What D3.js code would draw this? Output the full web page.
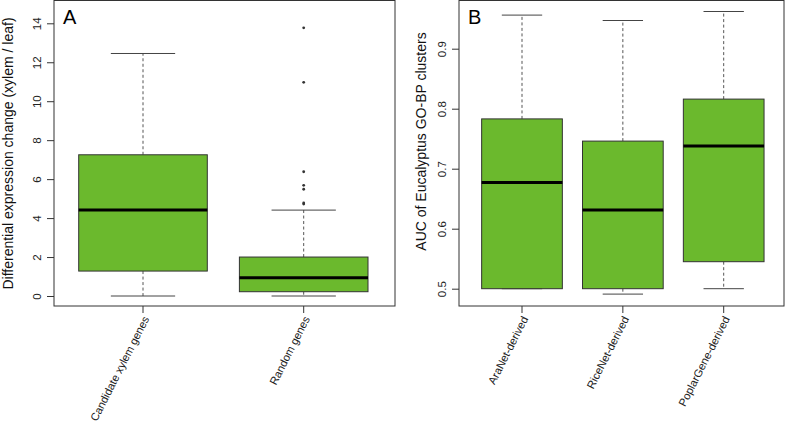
<!DOCTYPE html>
<html><head><meta charset="utf-8">
<script src="https://cdn.jsdelivr.net/npm/d3@7"></script>
<style>body{margin:0;background:#fff}svg{display:block;font-family:"Liberation Sans",Arial,sans-serif}</style>
</head><body><svg id="c" width="787" height="425"></svg>
<script>
// Panel A data
const catsA = ["Candidate xylem genes", "Random genes"];
const minA = [0, 0];
const q1A = [1.28, 0.22];
const medA = [4.41, 0.94];
const q3A = [7.25, 2.0];
const maxA = [12.45, 4.41];
const outliersA = [[], [4.72, 4.78, 5.48, 5.68, 6.38, 10.97, 13.77]];
const ticksA = [0, 2, 4, 6, 8, 10, 12, 14];
// Panel B data
const catsB = ["AraNet-derived", "RiceNet-derived", "PoplarGene-derived"];
const minB = [0.5, 0.491, 0.5];
const q1B = [0.5, 0.5, 0.545];
const medB = [0.677, 0.631, 0.738];
const q3B = [0.783, 0.746, 0.816];
const maxB = [0.956, 0.947, 0.962];
const outliersB = [[], [], []];
const ticksB = [0.5, 0.6, 0.7, 0.8, 0.9];

const svg = d3.select("#c");
const FILL = "#6bb92d";

function panel(o) {
  const g = svg.append("g");
  const x = d3.scalePoint().domain(o.cats).range(o.xr);
  const y = d3.scaleLinear().domain(o.yd).range(o.yr);
  // frame
  g.append("rect").attr("x", o.fx0).attr("y", o.fy0).attr("width", o.fx1 - o.fx0).attr("height", o.fy1 - o.fy0)
    .attr("fill", "none").attr("stroke", "#333").attr("stroke-width", 1);
  // y axis
  const ya = g.append("g").attr("transform", `translate(${o.fx0},0)`)
    .call(d3.axisLeft(y).tickValues(o.ticks).tickSize(7).tickPadding(4).tickFormat(o.fmt));
  ya.select(".domain").remove();
  ya.selectAll(".tick line").attr("stroke", "#333");
  ya.selectAll(".tick text").attr("font-size", 11.5).attr("fill", "#222").attr("font-family", "Liberation Sans, Arial, sans-serif")
    .attr("text-anchor", "middle").attr("dy", null).attr("x", 0).attr("y", 0)
    .attr("transform", "translate(-17,0) rotate(-90) translate(0,4)");
  // x ticks
  o.cats.forEach(c => {
    g.append("line").attr("x1", x(c)).attr("x2", x(c)).attr("y1", o.fy1).attr("y2", o.fy1 + 7).attr("stroke", "#333");
    g.append("text").attr("transform", `translate(${x(c) + 3},${o.fy1 + 11}) rotate(-63)`)
      .attr("text-anchor", "end").attr("dy", "0.35em").attr("font-size", 11.1).attr("fill", "#222").text(c);
  });
  const bw = o.bw;
  o.cats.forEach((c, i) => {
    const cx = x(c);
    // whiskers
    g.append("line").attr("x1", cx).attr("x2", cx).attr("y1", y(o.q3[i])).attr("y2", y(o.max[i]))
      .attr("stroke", "#555").attr("stroke-dasharray", "3,2.5");
    g.append("line").attr("x1", cx).attr("x2", cx).attr("y1", y(o.q1[i])).attr("y2", y(o.min[i]))
      .attr("stroke", "#555").attr("stroke-dasharray", "3,2.5");
    g.append("line").attr("x1", cx - bw / 4).attr("x2", cx + bw / 4).attr("y1", y(o.max[i])).attr("y2", y(o.max[i])).attr("stroke", "#444");
    g.append("line").attr("x1", cx - bw / 4).attr("x2", cx + bw / 4).attr("y1", y(o.min[i])).attr("y2", y(o.min[i])).attr("stroke", "#444");
    g.append("rect").attr("x", cx - bw / 2).attr("y", y(o.q3[i])).attr("width", bw).attr("height", y(o.q1[i]) - y(o.q3[i]))
      .attr("fill", FILL).attr("stroke", "#333").attr("stroke-width", 1);
    g.append("line").attr("x1", cx - bw / 2).attr("x2", cx + bw / 2).attr("y1", y(o.med[i])).attr("y2", y(o.med[i]))
      .attr("stroke", "#000").attr("stroke-width", 3);
    o.out[i].forEach(v => g.append("circle").attr("cx", cx).attr("cy", y(v)).attr("r", 1.4).attr("fill", "#333"));
  });
  // letter
  g.append("text").attr("x", o.fx0 + 9).attr("y", 23.5).attr("font-size", 20).attr("fill", "#000").text(o.letter);
  // y title
  g.append("text").attr("transform", `translate(${o.tx},${o.tyc}) rotate(-90)`)
    .attr("text-anchor", "middle").attr("dy", "0.35em").attr("font-size", 14).attr("fill", "#111").text(o.title);
}

panel({cats: catsA, min: minA, q1: q1A, med: medA, q3: q3A, max: maxA, out: outliersA, ticks: ticksA,
  xr: [143, 303.7], yd: [0, 14], yr: [296, 23.3], fx0: 54, fx1: 395, fy0: 0.5, fy1: 306, bw: 128.6,
  fmt: d3.format("d"), letter: "A", tx: 8, tyc: 153.5, title: "Differential expression change (xylem / leaf)"});
panel({cats: catsB, min: minB, q1: q1B, med: medB, q3: q3B, max: maxB, out: outliersB, ticks: ticksB,
  xr: [522, 723.7], yd: [0.5, 0.9], yr: [288.7, 48.7], fx0: 459, fx1: 784, fy0: 0.5, fy1: 306, bw: 80.7,
  fmt: d3.format(".1f"), letter: "B", tx: 421, tyc: 141.5, title: "AUC of Eucalyptus GO-BP clusters"});
</script></body></html>
